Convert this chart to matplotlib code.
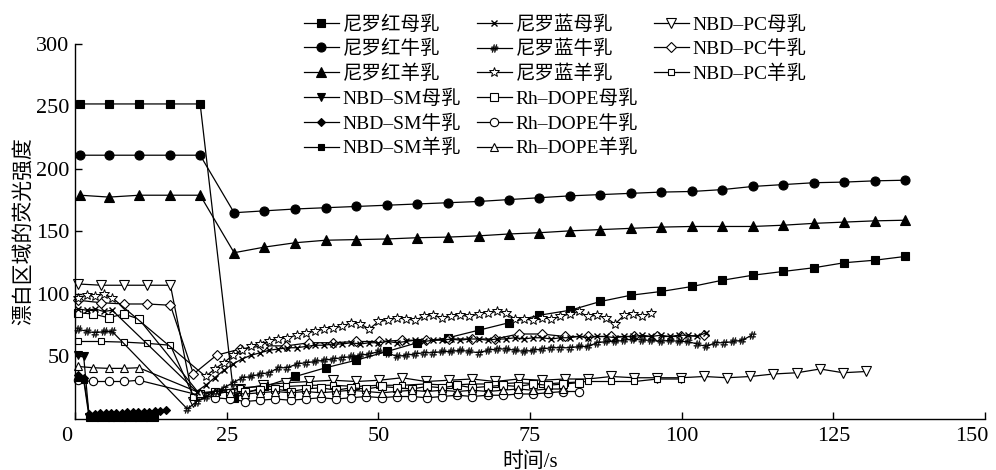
import matplotlib
matplotlib.use("Agg")
import matplotlib.pyplot as plt
from matplotlib.lines import Line2D
from matplotlib.transforms import ScaledTranslation

plt.rcParams['font.family'] = ['Liberation Serif', 'Noto Sans CJK SC']
plt.rcParams['axes.unicode_minus'] = False

# ---- data ----
# 尼罗红: one frame every ~5 s
t_nr = [0.8, 5.6, 10.6, 15.6, 20.6,
        26.2, 31.2, 36.3, 41.3, 46.3, 51.4, 56.4, 61.5, 66.5, 71.5, 76.5, 81.6,
        86.6, 91.6, 96.6, 101.7, 106.7, 111.7, 116.7, 121.8, 126.8, 131.8, 136.8]
nr_mu = [252, 252, 252, 252, 252,
         17, 26, 34, 41, 47, 54, 61, 65, 71, 77, 83, 87,
         94, 99, 102, 106, 111, 115, 118, 121, 125, 127, 130]
nr_niu = [211, 211, 211, 211, 211,
          165, 166.5, 168, 169, 170, 171, 172, 173, 174, 175.5, 177, 178.5,
          179.5, 180.5, 181.5, 182, 183.5, 186, 187.5, 189, 189.5, 190.5, 191]
nr_yang = [179, 177.5, 179, 179, 179,
           133, 137.5, 141, 143, 143.5, 144, 145, 145.5, 146.5, 148, 149, 150.5,
           151.5, 152.5, 153.5, 154, 154, 154, 155, 156.5, 157.5, 158.5, 159]

# NBD-SM: ~0.9 s per frame, only the first 15 s
t_sm = [0.5, 1.4, 2.3, 3.2, 4.1, 5.0, 5.9, 6.8, 7.7, 8.6, 9.5, 10.4, 11.3, 12.2,
        13.1, 14.0, 14.9]
sm_mu = [51, 50, 2, 1.5, 2, 1.5, 1.5, 2, 1.5, 1.5, 2, 1.5, 1.5, 2, 1.5]
sm_niu = [35, 33, 4, 4, 4.5, 4.5, 5, 5, 5, 5.5, 5.5, 6, 6, 6, 6.5, 6.5, 7]
sm_yang = [33, 31, 1, 1, 0.5, 1, 1, 0.5, 1, 1, 0.5, 1, 1, 0.5, 1]

# 尼罗蓝: ~1.5 s per frame
t_nb_pre = [0.5, 1.9, 3.3, 4.7, 6.1]
t_nb_post = [18.5, 20, 21.5, 23, 24.5, 26, 27.5, 29, 30.5, 32, 33.5, 35, 36.5,
             38, 39.5, 41, 42.5, 44, 45.5, 47, 48.5, 50, 51.5, 53, 54.5, 56,
             57.5, 59, 60.5, 62, 63.5, 65, 66.5, 68, 69.5, 71, 72.5, 74, 75.5,
             77, 78.5, 80, 81.5, 83, 84.5, 86, 87.5, 89, 90.5, 92, 93.5, 95,
             96.5, 98, 99.5, 101, 102.5, 104, 105.5, 107, 108.5, 110, 111.5]
nb_mu = [88, 87, 88, 86, 87,
         22, 27, 33, 39, 44, 48, 51, 53, 55, 56, 57, 57, 58, 59, 59, 60, 60, 61,
         60, 61, 61, 62, 61, 62, 63, 62, 63, 63, 64, 63, 64, 64, 63, 64, 64, 65,
         64, 65, 65, 64, 65, 65, 66, 65, 66, 66, 65, 66, 66, 67, 66, 67, 66, 67,
         67, 66, 69]
nb_niu = [72, 70, 69, 70, 70,
          8, 14, 18, 22, 25, 29, 33, 34, 36, 37, 41, 41, 44, 45, 46, 47, 48, 49,
          50, 51, 52, 54, 53, 50, 51, 52, 53, 53, 54, 54, 55, 54, 53, 55, 56, 56,
          55, 54, 55, 56, 57, 57, 57, 58, 58, 61, 62, 62, 63, 64, 63, 63, 62, 63,
          62, 62, 60, 58, 61, 61, 62, 63, 67]
nb_yang = [97, 99, 98, 100, 97,
           34, 40, 45, 51, 55, 58, 60, 62, 64, 65, 67, 69, 70, 72, 73, 74, 77,
           76, 72, 78, 79, 81, 80, 79, 82, 83, 81, 82, 83, 82, 84, 85, 86, 85,
           80, 80, 79, 81, 80, 82, 84, 86, 82, 83, 81, 76, 83, 84, 82, 85]

# Rh-DOPE: 2.5 s per frame
t_rh = [0.5, 3.0, 5.5, 8.0, 10.5,
        20.5, 23, 25.5, 28, 30.5, 33, 35.5, 38, 40.5, 43, 45.5, 48, 50.5, 53,
        55.5, 58, 60.5, 63, 65.5, 68, 70.5, 73, 75.5, 78, 80.5, 83]
rh_mu = [85, 84, 81, 84, 80,
         20, 22, 21, 22, 23, 24, 22, 24, 25, 23, 25, 24, 26, 25, 24, 26, 25, 27,
         25, 26, 27, 26, 28, 27, 28, 29]
rh_niu = [31, 30, 30, 30, 31,
          19, 17, 16, 14, 15, 16, 15, 16, 17, 16, 17, 18, 17, 18, 18, 17, 18,
          19, 18, 19, 19, 20, 20, 21, 22, 22]
rh_yang = [42, 41, 40.5, 40.5, 41,
           21, 22, 21, 20, 21, 22, 21, 22, 21, 22, 23, 22, 21, 22, 23, 22, 23,
           22, 23, 22, 23, 24, 23, 24, 24]

# NBD-PC: ~3.8 s per frame
t_pc = [0.5, 4.3, 8.1, 11.9, 15.7,
        19.5, 23.3, 27.2, 31.0, 34.8, 38.6, 42.5, 46.3, 50.1, 53.9, 57.8, 61.6,
        65.4, 69.2, 73.1, 76.9, 80.7, 84.5, 88.4, 92.2, 96.0, 99.8, 103.7,
        107.5, 111.3, 115.1, 119.0, 122.8, 126.6, 130.4]
pc_mu = [108, 107, 107, 107, 107,
         14, 20, 24, 27, 29, 30, 31, 30, 31, 33, 30, 31, 32, 30, 32, 31, 32, 32,
         34, 33, 33, 33, 34, 33, 34, 36, 37, 40, 37, 38]
pc_niu = [95, 93, 92, 92, 91,
          36, 51, 56, 58.5, 58.5, 61, 61, 62, 62, 63, 63, 64, 64, 64, 68, 68,
          66, 66, 66, 66, 66, 66, 67]
pc_yang = [62, 62, 61.5, 60.5, 59,
           18, 22, 25, 26, 26, 27, 27, 26, 27, 27, 28, 27, 28, 28, 29, 28, 29,
           30, 30, 30, 32, 32]

# ---- figure ----
fig = plt.figure(figsize=(9.96, 4.70), dpi=100)
ax = fig.add_axes([0.0755, 0.1085, 0.9135, 0.798])

def draw(t, y, marker, ms, filled, label, mew=0.8):
    face = 'black' if filled else 'white'
    ln, = ax.plot(t[:len(y)], y, color='black', lw=0.9, marker=marker,
                  markersize=ms, markerfacecolor=face, markeredgecolor='black',
                  markeredgewidth=mew, label=label, clip_on=False)
    return ln

h = {}
h['nr_mu'] = draw(t_nr, nr_mu, 's', 6, True, '尼罗红母乳')
h['nr_niu'] = draw(t_nr, nr_niu, 'o', 6.5, True, '尼罗红牛乳')
h['nr_yang'] = draw(t_nr, nr_yang, '^', 6.5, True, '尼罗红羊乳')

h['pc_mu'] = draw(t_pc, pc_mu, 'v', 6.5, False, 'NBD–PC母乳')
h['pc_niu'] = draw(t_pc, pc_niu, 'D', 5, False, 'NBD–PC牛乳')
h['pc_yang'] = draw(t_pc, pc_yang, 's', 4.5, False, 'NBD–PC羊乳')

h['rh_mu'] = draw(t_rh, rh_mu, 's', 5.5, False, 'Rh–DOPE母乳')
h['rh_niu'] = draw(t_rh, rh_niu, 'o', 6, False, 'Rh–DOPE牛乳')
h['rh_yang'] = draw(t_rh, rh_yang, '^', 6, False, 'Rh–DOPE羊乳')

h['nb_mu'] = draw(t_nb_pre + t_nb_post[1:], nb_mu, 'x', 4.5, False, '尼罗蓝母乳', 1.0)
h['nb_niu'] = draw(t_nb_pre + t_nb_post, nb_niu, '$\\#$', 5.5, True, '尼罗蓝牛乳', 0.3)
h['nb_yang'] = draw(t_nb_pre + t_nb_post[2:], nb_yang, '*', 7, False, '尼罗蓝羊乳', 0.7)

h['sm_mu'] = draw(t_sm, sm_mu, 'v', 6, True, 'NBD–SM母乳')
h['sm_niu'] = draw(t_sm, sm_niu, 'D', 4.5, True, 'NBD–SM牛乳')
h['sm_yang'] = draw(t_sm, sm_yang, 's', 4.5, True, 'NBD–SM羊乳')

ax.set_xlim(0, 150)
ax.set_ylim(0, 300)
ax.set_xticks([0, 25, 50, 75, 100, 125, 150])
ax.set_yticks([50, 100, 150, 200, 250, 300])
for s in ['top', 'right']:
    ax.spines[s].set_visible(False)
for s in ['left', 'bottom']:
    ax.spines[s].set_linewidth(1.0)
ax.tick_params(direction='in', length=5, width=1.0, labelsize=16, pad=4)
ax.tick_params(axis='x', pad=6)

# the origin "0" sits left of the corner, "150" is pulled in from the edge
xlabels = ax.xaxis.get_majorticklabels()
for lbl, dx in [(xlabels[0], -9), (xlabels[-1], -13)]:
    lbl.set_transform(lbl.get_transform() + ScaledTranslation(dx / 100, 0, fig.dpi_scale_trans))

ax.set_xlabel('时间/s', fontsize=15, labelpad=4)
ax.set_ylabel('漂白区域的荧光强度', fontsize=15, labelpad=2)

blank = Line2D([], [], linestyle='none', marker='none')
order = ['nr_mu', 'nr_niu', 'nr_yang', 'sm_mu', 'sm_niu', 'sm_yang',
         'nb_mu', 'nb_niu', 'nb_yang', 'rh_mu', 'rh_niu', 'rh_yang',
         'pc_mu', 'pc_niu', 'pc_yang']
handles = [h[k] for k in order] + [blank] * 3
labels = [h[k].get_label() for k in order] + [''] * 3
fig.legend(handles, labels, ncol=3, loc='upper left',
           bbox_to_anchor=(300 / 996, 0.976), frameon=False, fontsize=14,
           handlelength=1.8, handletextpad=0.2, columnspacing=0.8,
           labelspacing=0.33, borderpad=0.2, borderaxespad=0)

fig.savefig('out.png', dpi=100)
